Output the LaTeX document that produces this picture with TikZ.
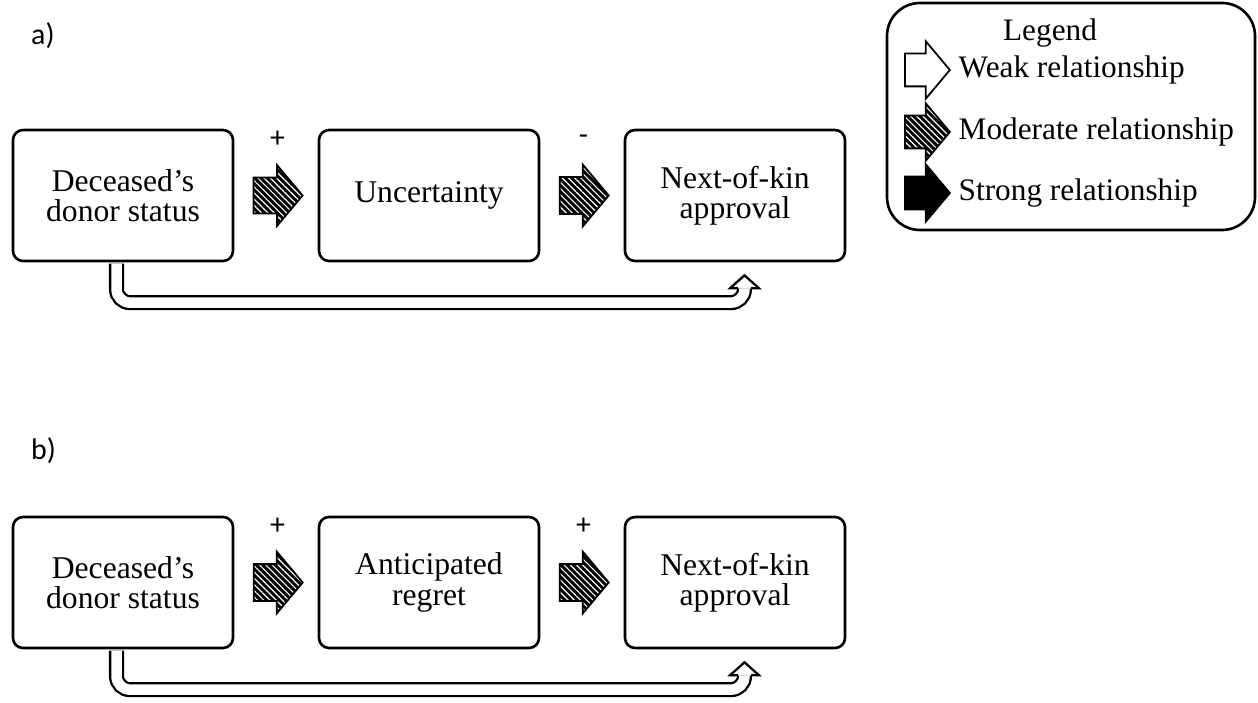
\documentclass[tikz,border=0pt]{standalone}
\usepackage{fontspec}
\setmainfont{Liberation Serif}
\newfontfamily\labelfont{Carlito}
\usetikzlibrary{shapes.arrows,patterns.meta,positioning,calc}

\tikzset{
  box/.style={rectangle, draw, line width=1.5pt, rounded corners=2mm, minimum width=44mm, minimum height=26.2mm, align=center, font=\fontsize{18}{17.2}\selectfont},
  relarrow/.style={single arrow, draw, line width=1pt, inner xsep=0pt, inner ysep=3.5mm, minimum height=9.8mm, single arrow head extend=2.5mm, single arrow tip angle=100},
  weak/.style={relarrow, fill=white},
  moderate/.style={relarrow, preaction={fill=black}, pattern={Lines[angle=-45, distance=2.5pt, line width=0.65pt]}, pattern color=white},
  strong/.style={relarrow, fill=black},
  sign/.style={font=\labelfont\fontsize{17}{20}\selectfont},
  legtext/.style={font=\fontsize{17.8}{20}\selectfont},
  tube/.style={line width=1.3pt, double=white, double distance=2.1mm, rounded corners=2.7mm},
  tubehead/.style={line width=1.3pt, fill=white},
}

\begin{document}
\begin{tikzpicture}[node distance=61.2mm]
  \useasboundingbox (0,0) rectangle (251.6mm,-140.6mm);

  % a) uncertainty
  \node[sign, anchor=west] (labA) at (5mm,-7.2mm) {a)};
  \node[box] (decA) at (24.6mm,-39.1mm) {Deceased’s\\donor status};
  \node[box, right of=decA] (uncA) {Uncertainty};
  \node[box, right of=uncA] (nokA) {Next-of-kin\\approval};
  \node[moderate, right of=decA, node distance=29.5mm] (arrA1) {};
  \node[moderate, right of=uncA, node distance=29.5mm] (arrA2) {};
  \node[sign, above of=arrA1, node distance=11.2mm, xshift=1.4mm] (plusA1) {+};
  \node[sign, above of=arrA2, node distance=11.2mm, xshift=1.4mm] (minusA2) {-};
  \coordinate (headA) at ($(nokA.south)+(1.9mm,-5.2mm)$);
  \draw[tube] ($(decA.south)+(-1.3mm,-0.75pt)$) -- ++(0,-7.8mm) -| (headA);
  \draw[tubehead] (headA) ++(-1.3mm,0) -- ++(-1.6mm,0) -- ++(2.9mm,2.6mm) -- ++(2.9mm,-2.6mm) -- ++(-1.6mm,0);

  % b) anticipated regret
  \node[sign, anchor=west] (labB) at (5mm,-90.2mm) {b)};
  \node[box, below of=decA, node distance=77.4mm] (decB) {Deceased’s\\donor status};
  \node[box, right of=decB] (regB) {Anticipated\\regret};
  \node[box, right of=regB] (nokB) {Next-of-kin\\approval};
  \node[moderate, right of=decB, node distance=29.5mm] (arrB1) {};
  \node[moderate, right of=regB, node distance=29.5mm] (arrB2) {};
  \node[sign, above of=arrB1, node distance=11.2mm, xshift=1.4mm] (plusB1) {+};
  \node[sign, above of=arrB2, node distance=11.2mm, xshift=1.4mm] (plusB2) {+};
  \coordinate (headB) at ($(nokB.south)+(1.9mm,-5.2mm)$);
  \draw[tube] ($(decB.south)+(-1.3mm,-0.75pt)$) -- ++(0,-7.8mm) -| (headB);
  \draw[tubehead] (headB) ++(-1.3mm,0) -- ++(-1.6mm,0) -- ++(2.9mm,2.6mm) -- ++(2.9mm,-2.6mm) -- ++(-1.6mm,0);

  % legend
  \node[draw, line width=1.5pt, rounded corners=6.6mm, minimum width=73.6mm, minimum height=45.4mm] (legend) at (214.2mm,-23.3mm) {};
  \node[legtext] (legtitle) at (210mm,-6.6mm) {Legend};
  \node[weak, minimum height=9mm, inner ysep=3.1mm] (weakL) at (184.1mm,-14mm) {};
  \node[moderate, minimum height=9mm, inner ysep=3.1mm, below of=weakL, node distance=12.4mm] (modL) {};
  \node[strong, minimum height=9mm, inner ysep=3.1mm, below of=modL, node distance=12.2mm] (strL) {};
  \node[legtext, right=0.3mm of weakL] (weakT) {Weak relationship};
  \node[legtext, right=0.3mm of modL] (modT) {Moderate relationship};
  \node[legtext, right=0.3mm of strL] (strT) {Strong relationship};
\end{tikzpicture}
\end{document}
